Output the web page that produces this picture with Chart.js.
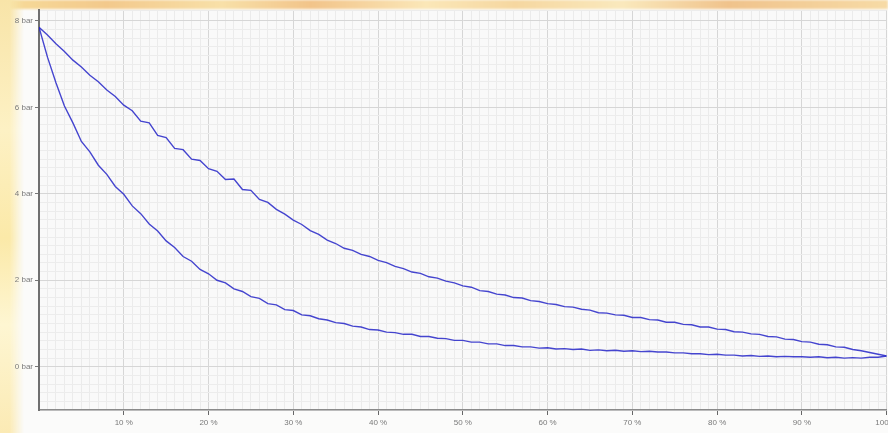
<!DOCTYPE html>
<html>
<head>
<meta charset="utf-8">
<script src="https://cdn.jsdelivr.net/npm/chart.js@4/dist/chart.umd.min.js"></script>
<style>
  html, body { margin:0; padding:0; overflow:hidden; width:888px; height:433px; }
  body { background:#fbfbfa; position:relative; }
  #topband { position:absolute; left:0; top:0; width:888px; height:9px;
    background: linear-gradient(90deg, #f7dc9a 0%, #f3c98c 12%, #f8e0a8 25%, #f2c48a 35%, #fbe7b8 48%, #f6d7a0 58%, #fae9bd 70%, #f0c38c 82%, #f7dba6 100%); filter: blur(1px); }
  #leftband { position:absolute; left:0; top:0; width:24px; height:433px;
    background: linear-gradient(180deg, #f8e4a8 0%, #fdf1c4 30%, #fbe9a8 55%, #fef6d2 75%, #fbeab4 100%);
    -webkit-mask-image: linear-gradient(90deg, #000 40%, transparent 100%); mask-image: linear-gradient(90deg, #000 40%, transparent 100%); }
  #wrap { position:absolute; left:0; top:0; width:901px; height:433px; }
</style>
</head>
<body>
<div id="topband"></div>
<div id="leftband"></div>
<div id="wrap"><canvas id="c"></canvas></div>
<script>
// Stroke / opening in percent
const pct = [0,1,2,3,4,5,6,7,8,9,10,11,12,13,14,15,16,17,18,19,20,21,22,23,24,25,26,27,28,29,30,31,32,33,34,35,36,37,38,39,40,41,42,43,44,45,46,47,48,49,50,51,52,53,54,55,56,57,58,59,60,61,62,63,64,65,66,67,68,69,70,71,72,73,74,75,76,77,78,79,80,81,82,83,84,85,86,87,88,89,90,91,92,93,94,95,96,97,98,99,100];

// Upper branch (bar)
const upperBar = [7.85,7.67,7.47,7.29,7.09,6.93,6.74,6.59,6.40,6.25,6.05,5.92,5.68,5.64,5.35,5.30,5.05,5.02,4.80,4.77,
  4.58,4.52,4.33,4.34,4.10,4.08,3.87,3.80,3.64,3.53,3.39,3.29,3.15,3.06,2.93,2.85,2.74,2.69,2.60,2.55,
  2.46,2.41,2.32,2.27,2.19,2.16,2.08,2.05,1.98,1.94,1.87,1.84,1.76,1.74,1.68,1.66,1.60,1.59,1.53,1.51,
  1.46,1.44,1.39,1.38,1.33,1.31,1.25,1.24,1.20,1.19,1.14,1.14,1.09,1.08,1.03,1.03,0.98,0.97,0.92,0.92,
  0.87,0.86,0.81,0.80,0.76,0.75,0.70,0.69,0.64,0.63,0.58,0.57,0.52,0.51,0.46,0.45,0.40,0.37,0.33,0.29,0.25];

// Lower branch (bar)
const lowerBar = [7.85,7.16,6.57,6.03,5.64,5.21,4.97,4.66,4.45,4.17,3.99,3.72,3.54,3.30,3.14,2.91,2.76,2.55,2.44,2.25,
  2.15,2.00,1.94,1.80,1.74,1.62,1.58,1.46,1.43,1.32,1.30,1.20,1.18,1.11,1.08,1.02,1.00,0.94,0.92,0.86,
  0.85,0.80,0.79,0.75,0.75,0.70,0.70,0.66,0.65,0.61,0.61,0.57,0.57,0.53,0.53,0.49,0.49,0.46,0.46,0.43,
  0.44,0.41,0.42,0.40,0.41,0.38,0.39,0.37,0.38,0.36,0.37,0.35,0.36,0.34,0.34,0.32,0.32,0.30,0.30,0.28,
  0.29,0.27,0.27,0.25,0.26,0.24,0.25,0.23,0.24,0.23,0.23,0.22,0.23,0.21,0.22,0.20,0.21,0.20,0.22,0.22,0.25];

// Tick labels
const xTickLabels = {10:'10 %',20:'20 %',30:'30 %',40:'40 %',50:'50 %',60:'60 %',70:'70 %',80:'80 %',90:'90 %',100:'100 %'};
const yTickLabels = {0:'0 bar',2:'2 bar',4:'4 bar',6:'6 bar',8:'8 bar'};

const near = (v, step) => Math.abs(v/step - Math.round(v/step)) < 1e-6;
const lineColor = 'rgba(38,38,200,0.85)';

const bgPlugin = {
  id:'bg',
  beforeDraw(chart){
    const {ctx, chartArea:a} = chart;
    ctx.save(); ctx.fillStyle = '#f9f9f9';
    ctx.fillRect(a.left, a.top, a.right-a.left, a.bottom-a.top);
    ctx.restore();
  }
};

new Chart(document.getElementById('c'), {
  type:'line',
  data:{
    datasets:[
      { label:'upper', data: pct.map((x,i)=>({x, y: upperBar[i]})), borderColor: lineColor, borderWidth:1.4, pointRadius:0, tension:0, fill:false },
      { label:'lower', data: pct.map((x,i)=>({x, y: lowerBar[i]})), borderColor: lineColor, borderWidth:1.4, pointRadius:0, tension:0, fill:false }
    ]
  },
  options:{
    responsive:true, maintainAspectRatio:false, animation:false,
    layout:{ padding:{ top:10, left:0, right:0, bottom:0 } },
    plugins:{ legend:{display:false}, tooltip:{enabled:false} },
    scales:{
      x:{
        type:'linear', min:0, max:100,
        ticks:{ stepSize:1, autoSkip:false, maxRotation:0, minRotation:0, padding:3,
          color:'#7a7a7a', font:{ family:'"Liberation Sans", Arial, sans-serif', size:8 },
          callback:(v)=> xTickLabels[Math.round(v)] && near(v,10) ? xTickLabels[Math.round(v)] : '' },
        grid:{ drawOnChartArea:true, tickLength:5,
          color:(c)=> near(c.tick.value,10) ? '#d6d6d6' : '#ebebeb',
          tickColor:(c)=> (near(c.tick.value,10) && c.tick.value>0) ? '#666' : 'rgba(0,0,0,0)',
          lineWidth:1 },
        border:{ display:true, color:'#8a8a8a', width:1.5 },
        afterFit:(s)=>{ s.height = 23; }
      },
      y:{
        type:'linear', min:-1, max:8.25,
        ticks:{ stepSize:0.2, autoSkip:false, padding:2,
          color:'#7a7a7a', font:{ family:'"Liberation Sans", Arial, sans-serif', size:8 },
          callback:(v)=> (near(v,2) && yTickLabels[Math.round(v)]) ? yTickLabels[Math.round(v)] : '' },
        grid:{ tickLength:4,
          color:(c)=> near(c.tick.value,2) ? '#d6d6d6' : '#ececec',
          tickColor:(c)=> (near(c.tick.value,2) && c.tick.value>=0) ? '#777' : 'rgba(0,0,0,0)',
          lineWidth:1 },
        border:{ display:true, color:'#707070', width:2 },
        afterFit:(s)=>{ s.width = 39; }
      }
    }
  },
  plugins:[bgPlugin]
});
</script>
</body>
</html>
